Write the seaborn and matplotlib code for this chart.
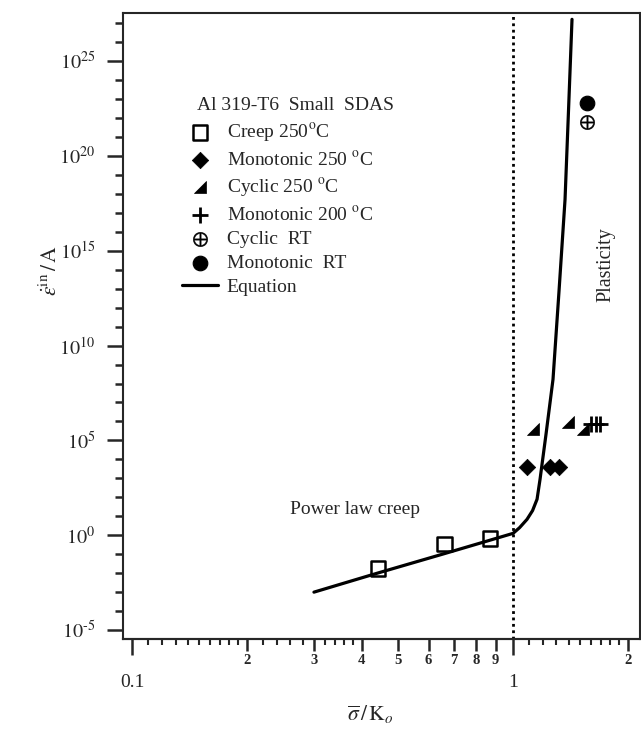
import numpy as np
import pandas as pd
import matplotlib
matplotlib.use("Agg")
import matplotlib.pyplot as plt
from matplotlib.path import Path
import seaborn as sns

# ---------------- data ----------------
creep_x = [0.442, 0.66, 0.87]
creep_y = [10**-1.74, 10**-0.47, 10**-0.16]

mono250_x = [1.086, 1.25, 1.323]
mono250_y = [10**3.62, 10**3.62, 10**3.62]

cyc250_x = [1.131, 1.397, 1.529]
cyc250_y = [10**5.62, 10**5.97, 10**5.62]

mono200_x = [1.600, 1.648, 1.692]
mono200_y = [10**5.85, 10**5.85, 10**5.85]

cycRT_x = [1.567]
cycRT_y = [10**21.79]

monoRT_x = [1.567]
monoRT_y = [10**22.77]

eq_x = [0.30, 0.44, 0.66, 0.87, 1.00, 1.04, 1.088, 1.125, 1.156, 1.177,
        1.22, 1.273, 1.32, 1.369, 1.40, 1.428]
eq_y = [10**-3.0, 10**-2.0, 10**-0.97, 10**-0.26, 10**0.10, 10**0.40,
        10**0.84, 10**1.30, 10**1.90, 10**2.95, 10**5.31, 10**8.22,
        10**12.86, 10**17.7, 10**22.7, 10**27.2]

legend_title = "Al 319-T6  Small  SDAS"
series_labels = ["Creep 250$^{\\mathrm{o}}$C", "Monotonic 250 $^{\\mathrm{o}}$C",
                 "Cyclic 250 $^{\\mathrm{o}}$C", "Monotonic 200 $^{\\mathrm{o}}$C",
                 "Cyclic  RT", "Monotonic  RT", "Equation"]

x_major = [0.1, 1.0]
x_major_labels = ["0.1", "1"]
x_minor = [0.2, 0.3, 0.4, 0.5, 0.6, 0.7, 0.8, 0.9, 2.0]
x_minor_labels = ["2", "3", "4", "5", "6", "7", "8", "9", "2"]
x_subminor = ([0.11, 0.12, 0.13, 0.14, 0.15, 0.16, 0.17, 0.18, 0.19,
               0.22, 0.24, 0.26, 0.28, 0.32, 0.34, 0.36, 0.38,
               1.1, 1.2, 1.3, 1.4, 1.5, 1.6, 1.7, 1.8, 1.9])
y_major_exp = [-5, 0, 5, 10, 15, 20, 25]
y_major_labels = ["$10^{\\text{-}5}$", "$10^{0}$", "$10^{5}$", "$10^{10}$",
                  "$10^{15}$", "$10^{20}$", "$10^{25}$"]

# ---------------- style ----------------
sns.set_style("ticks")
plt.rcParams["font.family"] = ["Liberation Serif", "DejaVu Serif"]
plt.rcParams["mathtext.fontset"] = "stix"
plt.rcParams["axes.linewidth"] = 1.5

fig = plt.figure(figsize=(6.41, 7.29), dpi=100)
ax = fig.add_axes([122.7 / 641, 1 - 639 / 729, (640 - 122.7) / 641, (639 - 12.7) / 729])

tri_path = Path([(-1, -1), (1, -1), (1, 1), (-1, -1)],
                [Path.MOVETO, Path.LINETO, Path.LINETO, Path.CLOSEPOLY])

sns.lineplot(x=eq_x, y=eq_y, ax=ax, color="black", lw=2.3, sort=False,
             estimator=None, label=series_labels[6])
sns.scatterplot(x=creep_x, y=creep_y, ax=ax, marker="s", s=110,
                facecolor="none", edgecolor="black", linewidth=1.8,
                label=series_labels[0], zorder=3)
sns.scatterplot(x=mono250_x, y=mono250_y, ax=ax, marker="D", s=70,
                color="black", edgecolor="black", linewidth=0.5,
                label=series_labels[1], zorder=3)
sns.scatterplot(x=cyc250_x, y=cyc250_y, ax=ax, marker=tri_path, s=85,
                color="black", edgecolor="black", linewidth=0.5,
                label=series_labels[2], zorder=3)
sns.scatterplot(x=mono200_x, y=mono200_y, ax=ax, marker="+", s=130,
                color="black", linewidth=2.0,
                label=series_labels[3], zorder=3)
sns.scatterplot(x=cycRT_x, y=cycRT_y, ax=ax, marker="$\\oplus$", s=110,
                color="black", edgecolor="black", linewidth=0.3,
                label=series_labels[4], zorder=3)
sns.scatterplot(x=monoRT_x, y=monoRT_y, ax=ax, marker="o", s=110,
                color="black", edgecolor="black",
                label=series_labels[5], zorder=3)

ax.axvline(1.0, color="black", lw=2.0, ls=(0, (1, 1.3)), dash_capstyle="butt", zorder=1)

ax.set_xscale("log")
ax.set_yscale("log")
ax.set_xlim(0.0944, 2.154)
ax.set_ylim(10**-5.47, 10**27.55)

# x ticks
ax.set_xticks(x_major)
ax.set_xticklabels(x_major_labels, fontsize=14)
ax.set_xticks(x_minor, minor=True)
ax.set_xticklabels(x_minor_labels, minor=True, fontsize=10.5, fontweight="bold")
ax.tick_params(axis="x", which="major", direction="out", length=11.5, width=1.8, pad=14)
ax.tick_params(axis="x", which="minor", direction="out", length=8.5, width=1.8, pad=2.5)

sec = ax.secondary_xaxis("bottom")
sec.set_xticks(x_subminor)
sec.tick_params(axis="x", which="major", direction="out", length=4.5, width=1.5,
                labelbottom=False)
sec.xaxis.set_minor_locator(matplotlib.ticker.NullLocator())
sec.spines["bottom"].set_linewidth(1.5)

# y ticks
ax.set_yticks([10.0**e for e in y_major_exp])
ax.set_yticklabels(y_major_labels, fontsize=14.5)
ax.yaxis.set_minor_locator(matplotlib.ticker.FixedLocator(
    [10.0**e for e in range(-5, 28) if e % 5 != 0]))
ax.yaxis.set_minor_formatter(matplotlib.ticker.NullFormatter())
ax.tick_params(axis="y", which="major", direction="out", length=11.5, width=1.8, pad=8)
ax.tick_params(axis="y", which="minor", direction="out", length=5.8, width=1.8)

ax.set_xlabel("$\\overline{\\sigma}\\,/\\,\\mathrm{K}_o$", fontsize=15.5)
ax.xaxis.set_label_coords(0.478, -0.103)
ax.set_ylabel("$\\dot{\\varepsilon}^{\\mathrm{in}}\\,/\\,\\mathrm{A}$", fontsize=15.5)
ax.yaxis.set_label_coords(-0.118, 0.589)

# legend
handles, labels = ax.get_legend_handles_labels()
order = [labels.index(l) for l in series_labels]
ax.text(0.1436, 0.852, legend_title, transform=ax.transAxes, fontsize=14,
        ha="left", va="center")
leg = ax.legend([handles[i] for i in order], [labels[i] for i in order],
                loc="upper left", bbox_to_anchor=(0.1146, 0.8266), frameon=False,
                fontsize=14, handlelength=1.85, handletextpad=0.45,
                labelspacing=0.33, borderpad=0, borderaxespad=0)

ax.text(0.3234, 0.206, "Power law creep", transform=ax.transAxes, fontsize=14,
        ha="left", va="center")
ax.text(0.934, 0.597, "Plasticity", transform=ax.transAxes, fontsize=14.5,
        ha="center", va="center", rotation=90)

for s in ax.spines.values():
    s.set_linewidth(1.5)

fig.savefig("out.png", dpi=100)
